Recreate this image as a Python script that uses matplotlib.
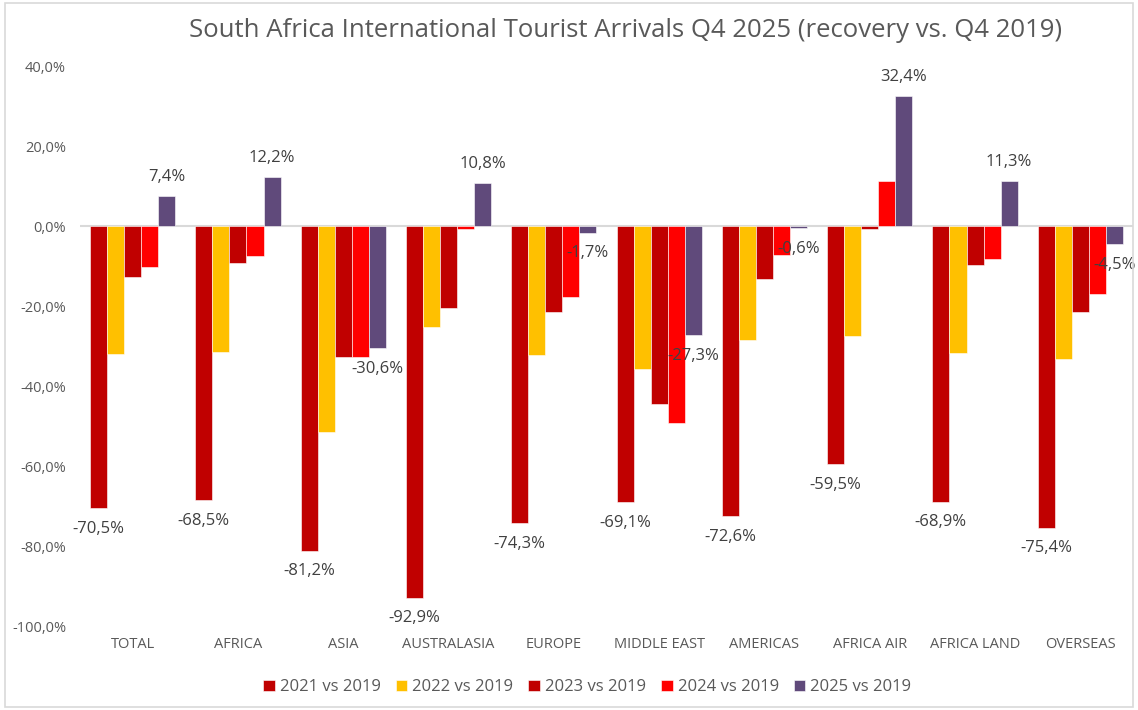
import matplotlib.pyplot as plt
import numpy as np
from matplotlib.patches import Rectangle

categories = ["TOTAL", "AFRICA", "ASIA", "AUSTRALASIA", "EUROPE",
              "MIDDLE EAST", "AMERICAS", "AFRICA AIR", "AFRICA LAND", "OVERSEAS"]

vs2019_2021 = [-70.5, -68.5, -81.2, -92.9, -74.3, -69.1, -72.6, -59.5, -68.9, -75.4]
vs2019_2022 = [-32.0, -31.6, -51.5, -25.2, -32.3, -35.7, -28.6, -27.5, -31.7, -33.3]
vs2019_2023 = [-12.8, -9.3, -32.8, -20.4, -21.4, -44.5, -13.2, -0.8, -9.8, -21.4]
vs2019_2024 = [-10.2, -7.4, -32.7, -0.7, -17.7, -49.2, -7.3, 11.2, -8.3, -17.1]
vs2019_2025 = [7.4, 12.2, -30.6, 10.8, -1.7, -27.3, -0.6, 32.4, 11.3, -4.5]

series_names = ["2021 vs 2019", "2022 vs 2019", "2023 vs 2019", "2024 vs 2019", "2025 vs 2019"]
series_colors = ["#C00000", "#FFC000", "#C00000", "#FF0000", "#604A7B"]
labelled = {0, 4}  # only 2021 and 2025 carry value labels

TEXT = "#595959"
plt.rcParams["font.family"] = ["Open Sans", "DejaVu Sans"]


def pct(v):
    return f"{v:.1f}%".replace(".", ",")


def main():
    fig = plt.figure(figsize=(11.38, 7.10), dpi=100)
    ax = fig.add_axes([0.0703, 0.1183, 0.9253, 0.7887])

    data = [vs2019_2021, vs2019_2022, vs2019_2023, vs2019_2024, vs2019_2025]
    x = np.arange(len(categories))
    width = 0.162
    offsets = (np.arange(5) - 2) * width

    for i, (vals, name, col) in enumerate(zip(data, series_names, series_colors)):
        bars = ax.bar(x + offsets[i], vals, width, color=col, label=name,
                      edgecolor="#ffffff", linewidth=0.4, zorder=3)
        if i in labelled:
            for b, v in zip(bars, vals):
                cx = b.get_x() + b.get_width() / 2
                if v >= 0:
                    ax.annotate(pct(v), (cx, v), xytext=(0, 8), textcoords="offset points",
                                ha="center", va="bottom", fontsize=12, color="#404040")
                else:
                    ax.annotate(pct(v), (cx, v), xytext=(0, -9), textcoords="offset points",
                                ha="center", va="top", fontsize=12, color="#404040")

    ax.axhline(0, color="#D9D9D9", linewidth=1.5, zorder=2)
    ax.set_xlim(-0.5, len(categories) - 0.5)
    ax.set_ylim(-100, 40)
    ax.set_yticks(np.arange(-100, 41, 20))
    ax.set_yticklabels([pct(t) for t in np.arange(-100, 41, 20)])
    ax.set_xticks(x)
    ax.set_xticklabels(categories)
    ax.tick_params(axis="y", length=0, labelsize=10.5, labelcolor=TEXT, pad=10)
    ax.tick_params(axis="x", length=0, labelsize=10.5, labelcolor=TEXT, pad=8)
    for s in ax.spines.values():
        s.set_visible(False)

    fig.suptitle("South Africa International Tourist Arrivals Q4 2025 (recovery vs. Q4 2019)",
                 x=0.550, y=0.975, fontsize=18.5, color=TEXT)

    leg = fig.legend(loc="center", bbox_to_anchor=(0.516, 0.032), ncol=5, frameon=False,
                     fontsize=12, handlelength=0.7, handleheight=0.7, handletextpad=0.3,
                     columnspacing=0.9)
    for t in leg.get_texts():
        t.set_color(TEXT)

    # thin chart-area border
    fig.patches.append(Rectangle((0.004, 0.004), 0.992, 0.992, transform=fig.transFigure,
                                 fill=False, edgecolor="#D9D9D9", linewidth=1.2))

    fig.savefig("out.png", dpi=100)
    plt.close(fig)


if __name__ == "__main__":
    main()
